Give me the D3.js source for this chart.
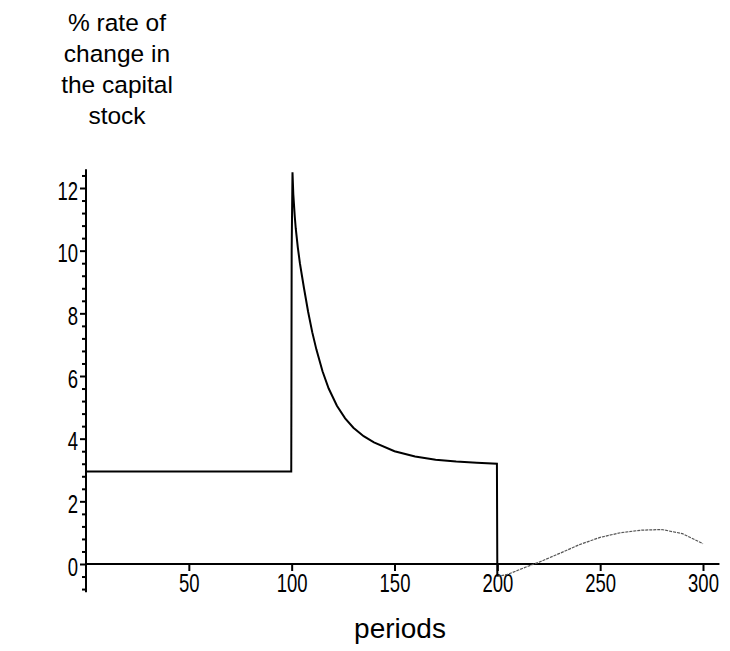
<!DOCTYPE html>
<html>
<head>
<meta charset="utf-8">
<script src="https://cdn.jsdelivr.net/npm/d3@7"></script>
<style>
  body { margin: 0; background: #fff; }
  svg { display: block; }
  .title { font-family: "Liberation Sans", Arial, sans-serif; font-size: 24.5px; fill: #000; }
  .xlabel { font-family: "Liberation Sans", Arial, sans-serif; font-size: 28px; fill: #000; }
  .axis text { font-family: "Liberation Sans", Arial, sans-serif; font-size: 25px; fill: #000; }
  .axis path, .axis line { stroke: #000; stroke-width: 2; }
</style>
</head>
<body>
<svg></svg>
<script>
let width = 730, height = 651;

// periods and % rate of change in the capital stock
let periods = [0, 99.8, 100, 100.4, 100.8, 101.5, 102, 103, 104, 105, 106, 108, 110, 112, 115, 118,
               122, 126, 130, 135, 140, 150, 160, 170, 180, 190, 199.8,
               200, 205, 210, 215, 220, 230, 240, 250, 260, 270, 280, 290, 300];
let rates = [2.95, 2.95, 10.0, 12.5, 11.8, 11.1, 10.7, 10.1, 9.6, 9.2, 8.8, 8.05, 7.4, 6.85, 6.15, 5.6,
             5.05, 4.65, 4.35, 4.08, 3.88, 3.6, 3.43, 3.33, 3.27, 3.23, 3.2,
             -0.4, -0.33, -0.2, -0.07, 0.05, 0.33, 0.62, 0.85, 1.0, 1.08, 1.1, 0.97, 0.65];

let xTicks = [50, 100, 150, 200, 250, 300];
let yTicks = [0, 2, 4, 6, 8, 10, 12];
let yMinorTicks = [-0.8, -0.4, 0.4, 0.8, 1.2, 1.6, 2.4, 2.8, 3.2, 3.6, 4.4, 4.8, 5.2, 5.6,
                   6.4, 6.8, 7.2, 7.6, 8.4, 8.8, 9.2, 9.6, 10.4, 10.8, 11.2, 11.6, 12.4];
let titleLines = ["% rate of", "change in", "the capital", "stock"];

let svg = d3.select("svg")
    .attr("width", width)
    .attr("height", height);

let x = d3.scaleLinear().domain([0, 300]).range([86, 703]);
let y = d3.scaleLinear().domain([0, 12]).range([564, 188]);

// the tick labels are a narrow face, squeeze them sideways
let squeeze = 0.74;

// title at top left
svg.append("text")
    .attr("class", "title")
    .attr("text-anchor", "middle")
    .selectAll("tspan")
    .data(titleLines)
    .enter()
    .append("tspan")
        .attr("x", 117)
        .attr("y", (d, i) => 31 + i * 31)
        .text(d => d);

// x axis through zero
let xAxis = svg.append("g")
    .attr("class", "axis")
    .attr("transform", "translate(0," + y(0) + ")")
    .call(d3.axisBottom(x).tickValues(xTicks).tickSize(7).tickSizeOuter(0).tickPadding(3));
xAxis.select(".domain").attr("d", "M" + x(0) + ",0H" + x(308));
xAxis.selectAll(".tick text").attr("transform", "scale(" + squeeze + ",1)");

// y axis with minor ticks
let yAxis = svg.append("g")
    .attr("class", "axis")
    .attr("transform", "translate(" + x(0) + ",0)")
    .call(d3.axisLeft(y).tickValues(yTicks).tickSize(6).tickSizeOuter(0));
yAxis.select(".domain").attr("d", "M0," + y(12.6) + "V" + y(-0.9));
yAxis.selectAll(".tick text")
    .attr("x", -8 / squeeze)
    .attr("dy", "0.45em")
    .attr("transform", "scale(" + squeeze + ",1)");

svg.append("g")
    .attr("class", "axis")
    .attr("transform", "translate(" + x(0) + ",0)")
    .call(d3.axisLeft(y).tickValues(yMinorTicks).tickSize(4).tickFormat(""))
    .select(".domain").remove();

let points = periods.map((p, i) => [p, rates[i]]);
let line = d3.line().x(d => x(d[0])).y(d => y(d[1]));

svg.append("path")
    .datum(points.filter(d => d[0] < 200 || (d[0] == 200 && d[1] < 0)))
    .attr("d", line)
    .attr("fill", "none")
    .attr("stroke", "#000")
    .attr("stroke-width", 2);

svg.append("path")
    .datum(points.filter(d => d[0] >= 200))
    .attr("d", line)
    .attr("fill", "none")
    .attr("stroke", "#555")
    .attr("stroke-width", 1.2)
    .attr("stroke-dasharray", "3,1");

svg.append("text")
    .attr("class", "xlabel")
    .attr("text-anchor", "middle")
    .attr("x", 400)
    .attr("y", 638)
    .text("periods");
</script>
</body>
</html>
